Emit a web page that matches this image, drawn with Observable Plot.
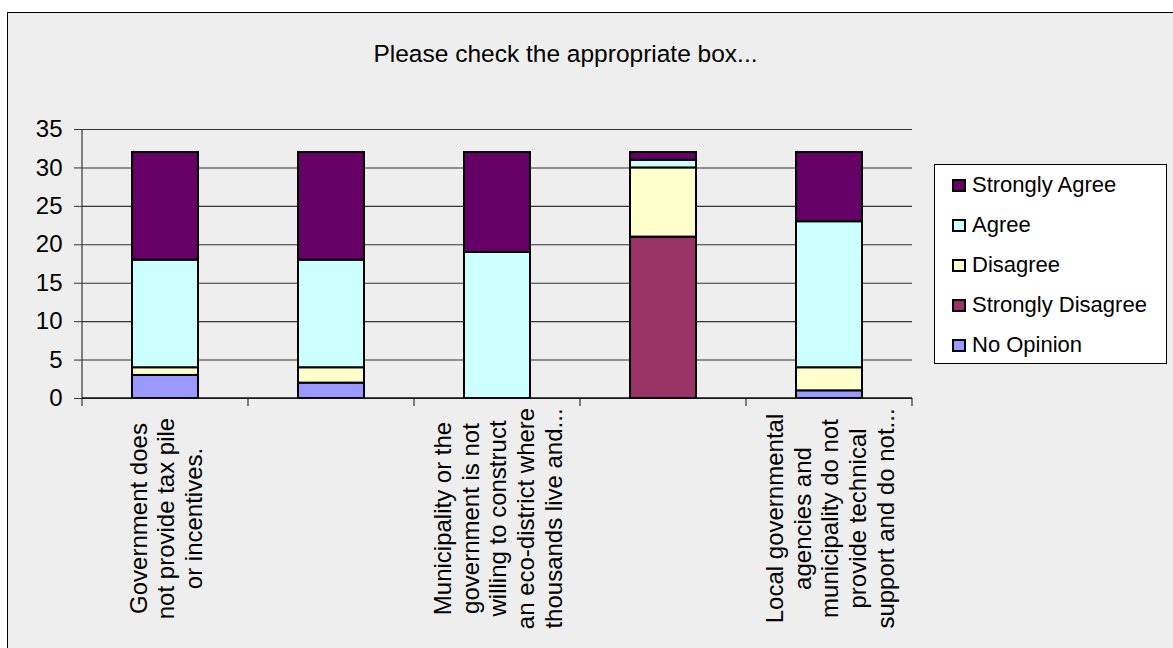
<!DOCTYPE html>
<html>
<head>
<meta charset="utf-8">
<script src="https://cdn.jsdelivr.net/npm/d3@7"></script>
<script src="https://cdn.jsdelivr.net/npm/@observablehq/plot@0.6"></script>
<style>
  html, body { margin: 0; padding: 0; background: #ffffff; overflow: hidden; }
  #page { position: relative; width: 1173px; height: 648px; overflow: hidden; font-family: "Liberation Sans", Arial, sans-serif; color: #000; }
  #frame { position: absolute; left: 7px; top: 12px; width: 1200px; height: 700px; background: #eeeeee; border: 1.5px solid #000; }
  #chart { position: absolute; left: 0; top: 0; }
  #title { position: absolute; left: 0; top: 42px; width: 1131px; text-align: center; font-size: 24.5px; line-height: 24px; }
  #legend { position: absolute; left: 934px; top: 164px; width: 233px; height: 200px; box-sizing: border-box; background: #ffffff; border: 1px solid #000; }
  .row { height: 40px; display: flex; align-items: center; padding-left: 17px; box-sizing: border-box; }
  .sw { width: 14px; height: 13px; box-sizing: border-box; border: 2px solid #000; margin-right: 6px; flex: none; }
  .lab { font-size: 22px; white-space: nowrap; }
</style>
</head>
<body>
<div id="page">
  <div id="frame"></div>
  <div id="chart"></div>
  <div id="title"></div>
  <div id="legend"></div>
</div>
<script>
// ---- Data ----
const titleText = "Please check the appropriate box...";
const questions = ["Q1", "Q2", "Q3", "Q4", "Q5"];
const questionLabels = [
  "Government does\nnot provide tax pile\nor incentives.",
  "",
  "Municipality or the\ngovernment is not\nwilling to construct\nan eco-district where\nthousands live and...",
  "",
  "Local governmental\nagencies and\nmunicipality do not\nprovide technical\nsupport and do not..."
];
// stack order, bottom to top
const series = ["No Opinion", "Strongly Disagree", "Disagree", "Agree", "Strongly Agree"];
const seriesColors = ["#9999FF", "#993366", "#FFFFCC", "#CCFFFF", "#660066"];
const noOpinion        = [3, 2, 0, 0, 1];
const stronglyDisagree = [0, 0, 0, 21, 0];
const disagree         = [1, 2, 0, 9, 3];
const agree            = [14, 14, 19, 1, 19];
const stronglyAgree    = [14, 14, 13, 1, 9];
const yTicks = [0, 5, 10, 15, 20, 25, 30, 35];

// ---- Build table ----
const valuesBySeries = [noOpinion, stronglyDisagree, disagree, agree, stronglyAgree];
const rows = [];
questions.forEach((q, i) => {
  series.forEach((s, j) => {
    rows.push({ q, series: s, value: valuesBySeries[j][i] });
  });
});
const labelData = questions.map((q, i) => ({ q, label: questionLabels[i] }));

const FONT = '"Liberation Sans", Arial, sans-serif';

const chart = Plot.plot({
  width: 1173,
  height: 648,
  marginLeft: 82,
  marginRight: 261,
  marginTop: 129,
  marginBottom: 250,
  style: { background: "transparent", fontFamily: FONT, fontSize: "24px", color: "#000", overflow: "visible" },
  x: { domain: questions, paddingInner: 0.6, paddingOuter: 0.3, axis: null },
  y: { domain: [0, 35], axis: null },
  color: { domain: series, range: seriesColors },
  marks: [
    Plot.gridY(yTicks, { stroke: "#333", strokeOpacity: 1, strokeWidth: 1.1 }),
    Plot.axisY(yTicks, { anchor: "left", tickSize: 8, tickPadding: 12, fontSize: 24, stroke: "#333", label: null, tickFormat: d => String(d) }),
    Plot.barY(rows.filter(d => d.value > 0), {
      x: "q", y: "value", fill: "series", stroke: "#000", strokeWidth: 2, order: series
    }),
    Plot.text(labelData, {
      x: "q", text: "label", frameAnchor: "bottom", rotate: -90,
      textAnchor: "middle", lineAnchor: "middle", dy: 120,
      fontSize: 24, lineHeight: 1.15, fill: "#000"
    })
  ]
});

// y-axis line, x-axis line and category boundary ticks, from the chart's own scales
(function decorate() {
  const xs = chart.scale("x"), ys = chart.scale("y");
  const y0 = ys.apply(0), yTop = ys.apply(35);
  const step = xs.step, bw = xs.bandwidth;
  const bounds = questions.map(q => xs.apply(q) + bw / 2 - step / 2);
  bounds.push(xs.apply(questions[questions.length - 1]) + bw / 2 + step / 2);
  const svg = d3.select(chart);
  const g = svg.append("g");
  g.append("line").attr("x1", bounds[0]).attr("x2", bounds[0]).attr("y1", yTop).attr("y2", y0)
    .attr("stroke", "#333").attr("stroke-width", 1.2);
  g.selectAll("line.bt").data(bounds).join("line").attr("class", "bt")
    .attr("x1", d => d).attr("x2", d => d).attr("y1", y0).attr("y2", y0 + 8)
    .attr("stroke", "#333").attr("stroke-width", 1.2);
  g.append("line").attr("x1", bounds[0]).attr("x2", bounds[bounds.length - 1]).attr("y1", y0).attr("y2", y0)
    .attr("stroke", "#111").attr("stroke-width", 1.5);
})();

document.getElementById("chart").appendChild(chart);
document.getElementById("title").textContent = titleText;

// legend (top to bottom reverses stack order)
const legend = document.getElementById("legend");
series.slice().reverse().forEach(s => {
  const row = document.createElement("div");
  row.className = "row";
  const sw = document.createElement("div");
  sw.className = "sw";
  sw.style.background = seriesColors[series.indexOf(s)];
  const lab = document.createElement("div");
  lab.className = "lab";
  lab.textContent = s;
  row.appendChild(sw);
  row.appendChild(lab);
  legend.appendChild(row);
});
</script>
</body>
</html>
